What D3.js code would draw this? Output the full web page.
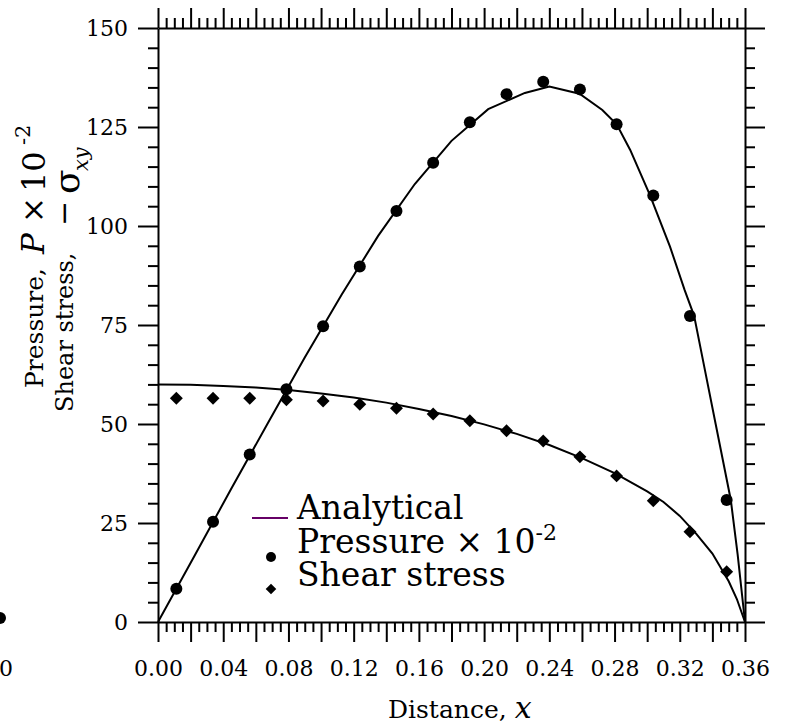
<!DOCTYPE html>
<html><head><meta charset="utf-8">
<script src="https://cdn.jsdelivr.net/npm/d3@7"></script>
<style>
html,body{margin:0;padding:0;background:#fff;}
svg{display:block;font-family:"DejaVu Serif",serif;}
</style></head>
<body><svg id="c" width="789" height="727"></svg>
<script>
// ---- data ----
const pointX = [0.01125,0.03375,0.05625,0.07875,0.10125,0.12375,0.14625,0.16875,0.19125,0.21375,0.23625,0.25875,0.28125,0.30375,0.32625,0.34875];
const pressure = [8.4,25.3,42.3,58.8,74.7,89.8,103.8,116.0,126.2,133.3,136.4,134.5,125.7,107.7,77.3,30.8];
const shear = [56.5,56.5,56.5,56.1,55.8,55.0,54.0,52.5,50.8,48.3,45.7,41.7,36.9,30.6,22.8,12.7];
const pCurveX = [0,0.0225,0.045,0.0675,0.09,0.1125,0.135,0.1575,0.18,0.2025,0.225,0.24,0.2585,0.2725,0.2813,0.2896,0.3017,0.314,0.323,0.3288,0.335,0.342,0.3513,0.3555,0.36];
const pCurveY = [0,16.8,33.7,50.3,66.8,82.6,97.5,110.6,121.5,129.5,133.6,135.2,133.4,129.3,125.7,119.2,107.8,94.8,83.8,77.3,64.5,50.0,30.8,17.0,0];
const sCurveX = [0,0.02,0.04,0.06,0.08,0.10,0.12,0.14,0.16,0.18,0.20,0.22,0.24,0.26,0.28,0.30,0.31,0.32,0.33,0.34,0.35,0.355,0.36];
const sCurveY = [60,59.9,59.6,59.2,58.6,57.7,56.7,55.4,53.8,52.0,49.9,47.5,44.7,41.4,37.6,33.0,30.3,26.8,22.3,17.3,10.3,5.8,0];
const xMajor = [0,0.02,0.04,0.06,0.08,0.10,0.12,0.14,0.16,0.18,0.20,0.22,0.24,0.26,0.28,0.30,0.32,0.34,0.36];
const xLabels = ["0.00","0.04","0.08","0.12","0.16","0.20","0.24","0.28","0.32","0.36"];
const xLabelVals = [0,0.04,0.08,0.12,0.16,0.20,0.24,0.28,0.32,0.36];
const yMajor = [0,25,50,75,100,125,150];
const yLabels = ["0","25","50","75","100","125","150"];

const svg = d3.select("#c");
const x = d3.scaleLinear().domain([0,0.36]).range([158,745]);
const y = d3.scaleLinear().domain([0,150]).range([622,28]);

const xMinor = d3.range(0,0.3601,0.005).filter(v=>Math.abs(v/0.02-Math.round(v/0.02))>1e-6);
const yMinor = d3.range(0,150.1,5).filter(v=>v%25!==0);

function styleAxis(g){
  g.selectAll("path,line").attr("stroke","#000").attr("stroke-width",2);
  g.selectAll("text").attr("fill","#000").attr("font-family","DejaVu Serif").attr("font-size",22);
}
// bottom
svg.append("g").attr("transform","translate(0,622)")
  .call(d3.axisBottom(x).tickValues(xMinor).tickSize(10).tickSizeOuter(0).tickFormat(""))
  .call(g=>g.select(".domain").remove()).call(styleAxis);
svg.append("g").attr("transform","translate(0,622)")
  .call(d3.axisBottom(x).tickValues(xMajor).tickSize(20).tickSizeOuter(0).tickFormat(""))
  .call(styleAxis);
svg.append("g").attr("transform","translate(0,622)")
  .call(d3.axisBottom(x).tickValues(xLabelVals).tickSize(0).tickPadding(38).tickFormat((d,i)=>xLabels[i]))
  .call(g=>g.select(".domain").remove()).call(styleAxis);
// top
svg.append("g").attr("transform","translate(0,28)")
  .call(d3.axisTop(x).tickValues(xMinor).tickSize(10).tickSizeOuter(0).tickFormat(""))
  .call(g=>g.select(".domain").remove()).call(styleAxis);
svg.append("g").attr("transform","translate(0,28)")
  .call(d3.axisTop(x).tickValues(xMajor).tickSize(20).tickSizeOuter(0).tickFormat(""))
  .call(styleAxis);
// left
svg.append("g").attr("transform","translate(158,0)")
  .call(d3.axisLeft(y).tickValues(yMinor).tickSize(10).tickSizeOuter(0).tickFormat(""))
  .call(g=>g.select(".domain").remove()).call(styleAxis);
svg.append("g").attr("transform","translate(158,0)")
  .call(d3.axisLeft(y).tickValues(yMajor).tickSize(20).tickSizeOuter(0).tickPadding(10).tickFormat((d,i)=>yLabels[i]))
  .call(styleAxis);
// right
svg.append("g").attr("transform","translate(745,0)")
  .call(d3.axisRight(y).tickValues(yMinor).tickSize(10).tickSizeOuter(0).tickFormat(""))
  .call(g=>g.select(".domain").remove()).call(styleAxis);
svg.append("g").attr("transform","translate(745,0)")
  .call(d3.axisRight(y).tickValues(yMajor).tickSize(20).tickSizeOuter(0).tickFormat(""))
  .call(styleAxis);

// curves
const line = d3.line().x(d=>x(d[0])).y(d=>y(d[1]));
svg.append("path").attr("d",line(pCurveX.map((v,i)=>[v,pCurveY[i]])))
  .attr("fill","none").attr("stroke","#000").attr("stroke-width",2);
svg.append("path").attr("d",line(sCurveX.map((v,i)=>[v,sCurveY[i]])))
  .attr("fill","none").attr("stroke","#000").attr("stroke-width",2);

// points
svg.append("g").selectAll("circle").data(pointX).join("circle")
  .attr("cx",d=>x(d)).attr("cy",(d,i)=>y(pressure[i])).attr("r",6).attr("fill","#000");
svg.append("g").selectAll("path").data(pointX).join("path")
  .attr("d",d3.symbol().type(d3.symbolSquare).size(84))
  .attr("transform",(d,i)=>`translate(${x(d)},${y(shear[i])}) rotate(45)`).attr("fill","#000");

// legend
const lg = svg.append("g");
lg.append("line").attr("x1",252).attr("x2",288).attr("y1",518).attr("y2",518).attr("stroke","#660066").attr("stroke-width",2);
lg.append("circle").attr("cx",271).attr("cy",557).attr("r",5).attr("fill","#000");
lg.append("path").attr("d",d3.symbol().type(d3.symbolSquare).size(56)).attr("transform","translate(271,589) rotate(45)").attr("fill","#000");
lg.append("text").attr("x",297).attr("y",519).attr("font-size",33).text("Analytical");
const t2 = lg.append("text").attr("x",297).attr("y",553).attr("font-size",33);
t2.append("tspan").text("Pressure × 10");
t2.append("tspan").attr("font-size",22).attr("dy",-13).text("-2");
lg.append("text").attr("x",297).attr("y",586).attr("font-size",33).text("Shear stress");

// axis title
const xt = svg.append("text").attr("x",388).attr("y",718).attr("font-size",25);
xt.append("tspan").text("Distance, ");
xt.append("tspan").attr("font-style","italic").attr("font-size",30).text("x");

// y title (rotated pieces)
function rtext(bx, by, size, str, italic){
  return svg.append("text").attr("transform",`translate(${bx},${by}) rotate(-90)`)
    .attr("font-size",size).attr("font-style",italic?"italic":"normal").text(str);
}
rtext(43,388,25,"Pressure,");
rtext(44,254,31,"P",true);
rtext(44,223,31,"×");
rtext(45,192,32,"10");
rtext(30,145,21,"-2");
rtext(73,412,24,"Shear stress,");
rtext(74,226,30,"−");
rtext(79,194,36,"σ");
rtext(88,171,21,"xy",true);

// stray cropped marks at left edge
svg.append("circle").attr("cx",0).attr("cy",618).attr("r",6).attr("fill","#000");
svg.append("text").attr("x",13).attr("y",676).attr("text-anchor","end").attr("font-size",22).text("0");
</script></body></html>
